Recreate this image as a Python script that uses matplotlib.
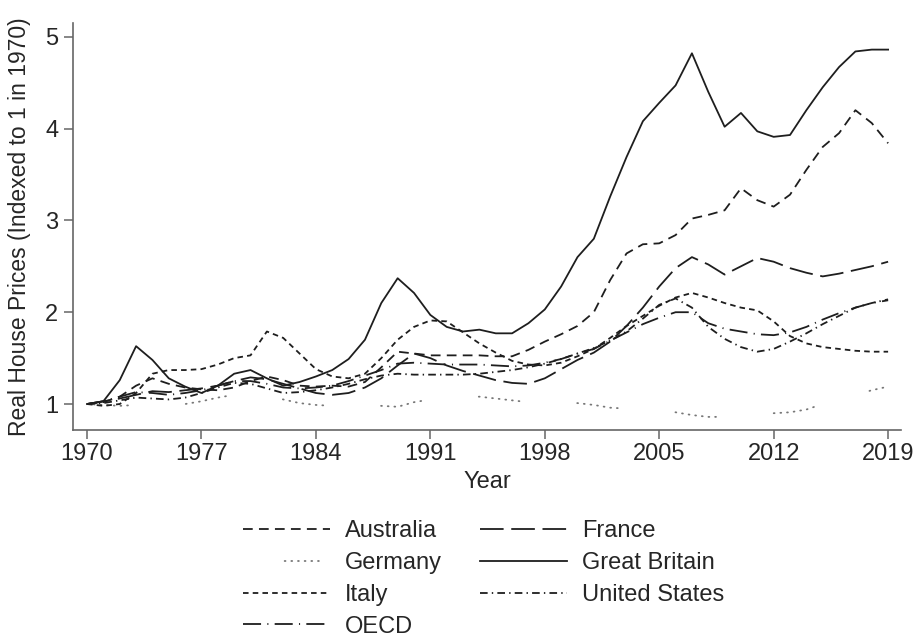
import matplotlib
matplotlib.use('Agg')
import matplotlib.pyplot as plt
from matplotlib.lines import Line2D

years = list(range(1970, 2020))

australia = [1.00, 1.02, 1.08, 1.20, 1.28, 1.22, 1.18, 1.16, 1.15, 1.18,
             1.25, 1.30, 1.26, 1.20, 1.19, 1.20, 1.19, 1.24, 1.40, 1.57,
             1.55, 1.53, 1.53, 1.53, 1.53, 1.52, 1.52, 1.59, 1.68, 1.76,
             1.85, 2.00, 2.35, 2.64, 2.74, 2.75, 2.84, 3.02, 3.06, 3.11,
             3.35, 3.22, 3.15, 3.28, 3.55, 3.80, 3.95, 4.20, 4.06, 3.84]

france = [1.00, 1.03, 1.06, 1.10, 1.14, 1.13, 1.15, 1.17, 1.20, 1.25,
          1.29, 1.27, 1.22, 1.17, 1.12, 1.10, 1.12, 1.18, 1.28, 1.42,
          1.55, 1.50, 1.42, 1.36, 1.31, 1.26, 1.23, 1.22, 1.28, 1.38,
          1.48, 1.56, 1.68, 1.85, 2.05, 2.28, 2.48, 2.60, 2.52, 2.41,
          2.50, 2.59, 2.55, 2.48, 2.43, 2.39, 2.42, 2.46, 2.50, 2.55]

germany = [1.00, 0.99, 0.98, 0.99, 0.99, 0.99, 1.00, 1.03, 1.07, 1.10,
           1.12, 1.10, 1.05, 1.01, 0.99, 0.98, 0.98, 0.98, 0.98, 0.97,
           1.02, 1.05, 1.07, 1.08, 1.08, 1.06, 1.04, 1.02, 1.01, 1.01,
           1.01, 0.99, 0.96, 0.95, 0.93, 0.92, 0.91, 0.88, 0.86, 0.86,
           0.87, 0.89, 0.90, 0.91, 0.94, 1.00, 1.06, 1.10, 1.15, 1.19]

great_britain = [1.00, 1.03, 1.26, 1.63, 1.48, 1.28, 1.19, 1.12, 1.20, 1.33,
                 1.37, 1.28, 1.20, 1.24, 1.30, 1.37, 1.49, 1.70, 2.10, 2.37,
                 2.21, 1.97, 1.84, 1.79, 1.81, 1.77, 1.77, 1.88, 2.03, 2.28,
                 2.60, 2.80, 3.26, 3.69, 4.08, 4.28, 4.47, 4.82, 4.40, 4.02,
                 4.17, 3.97, 3.91, 3.93, 4.20, 4.45, 4.67, 4.84, 4.86, 4.86]

italy = [1.00, 0.98, 1.00, 1.12, 1.33, 1.37, 1.37, 1.38, 1.43, 1.50,
         1.53, 1.79, 1.72, 1.55, 1.38, 1.30, 1.28, 1.33, 1.50, 1.70,
         1.84, 1.91, 1.90, 1.78, 1.66, 1.56, 1.47, 1.43, 1.42, 1.45,
         1.52, 1.60, 1.72, 1.85, 1.96, 2.07, 2.16, 2.21, 2.16, 2.10,
         2.05, 2.02, 1.90, 1.74, 1.66, 1.62, 1.60, 1.58, 1.57, 1.57]

united_states = [1.00, 1.01, 1.04, 1.07, 1.06, 1.05, 1.07, 1.12, 1.18, 1.23,
                 1.22, 1.17, 1.12, 1.13, 1.15, 1.18, 1.22, 1.27, 1.31, 1.33,
                 1.32, 1.32, 1.32, 1.32, 1.33, 1.35, 1.37, 1.40, 1.44, 1.49,
                 1.55, 1.61, 1.69, 1.79, 1.93, 2.08, 2.15, 2.05, 1.84, 1.71,
                 1.62, 1.57, 1.60, 1.68, 1.77, 1.87, 1.96, 2.05, 2.10, 2.14]

oecd = [1.00, 1.03, 1.08, 1.13, 1.12, 1.10, 1.12, 1.15, 1.20, 1.25,
        1.25, 1.22, 1.18, 1.17, 1.18, 1.20, 1.25, 1.31, 1.37, 1.44,
        1.45, 1.44, 1.43, 1.43, 1.43, 1.42, 1.41, 1.42, 1.45, 1.49,
        1.55, 1.60, 1.69, 1.78, 1.87, 1.94, 2.00, 2.00, 1.88, 1.82,
        1.79, 1.76, 1.75, 1.78, 1.84, 1.92, 1.99, 2.05, 2.10, 2.13]

x_ticks = [1970, 1977, 1984, 1991, 1998, 2005, 2012, 2019]
y_ticks = [1, 2, 3, 4, 5]

plt.rcParams['font.family'] = ['Liberation Sans', 'DejaVu Sans']
plt.rcParams['lines.scale_dashes'] = False

TXT = '#262626'
LC = '#1e1e1e'
LW = 1.3

fig = plt.figure(figsize=(9.18, 6.42), dpi=100)
ax = fig.add_axes([0.0795, 0.3302, 0.902, 0.634])

ger_pat = [0.6, 4.2] * 6 + [0.6, 41.7]

l_aus, = ax.plot(years, australia, color=LC, lw=LW, linestyle=(0, (7, 4.5)), label='Australia')
l_fra, = ax.plot(years, france, color=LC, lw=LW, linestyle=(0, (17, 5.5)), label='France')
l_ger, = ax.plot(years, germany, color='#777777', lw=1.3, linestyle=(71.0, ger_pat),
                 dash_capstyle='round', label='Germany')
l_gb, = ax.plot(years, great_britain, color=LC, lw=LW, linestyle='-', label='Great Britain')
l_ita, = ax.plot(years, italy, color=LC, lw=LW, linestyle=(0, (4, 3)), label='Italy')
l_us, = ax.plot(years, united_states, color=LC, lw=LW, linestyle=(0, (5.5, 3, 1, 3)),
                label='United States')
l_oecd, = ax.plot(years, oecd, color=LC, lw=LW, linestyle=(0, (13, 4.5, 0.8, 4.5)), label='OECD')

ger_proxy = Line2D([], [], color='#777777', lw=1.3, linestyle=(41.1, [0.6, 4.2] * 5 + [0.6, 46.5]),
                   dash_capstyle='round', label='Germany')

ax.set_xlim(1969.14, 2019.79)
ax.set_ylim(0.717, 5.15)
ax.set_xticks(x_ticks)
ax.set_xticklabels([str(t) for t in x_ticks])
ax.set_yticks(y_ticks)
ax.set_yticklabels([str(t) for t in y_ticks])

for s in ['top', 'right']:
    ax.spines[s].set_visible(False)
for s in ['left', 'bottom']:
    ax.spines[s].set_color('#666666')
    ax.spines[s].set_linewidth(1.2)

ax.tick_params(axis='both', direction='out', length=6.5, width=1.1, color='#666666',
               labelsize=17, labelcolor=TXT)
ax.tick_params(axis='x', pad=3)
ax.tick_params(axis='y', pad=4)

ax.set_xlabel('Year', fontsize=17, color=TXT, labelpad=4)
ax.set_ylabel('Real House Prices (Indexed to 1 in 1970)', fontsize=16.5, color=TXT, labelpad=10)

handles = [l_aus, ger_proxy, l_ita, l_oecd, l_fra, l_gb, l_us]
labels = [h.get_label() for h in handles]
leg = fig.legend(handles, labels, ncol=2, frameon=False, fontsize=17,
                 loc='upper left', bbox_to_anchor=(243 / 918, 1 - 520 / 642),
                 bbox_transform=fig.transFigure, borderpad=0, borderaxespad=0,
                 handlelength=3.69, handletextpad=0.64, columnspacing=1.6,
                 labelspacing=0.42)
for t in leg.get_texts():
    t.set_color(TXT)

fig.savefig('out.png', dpi=100)
